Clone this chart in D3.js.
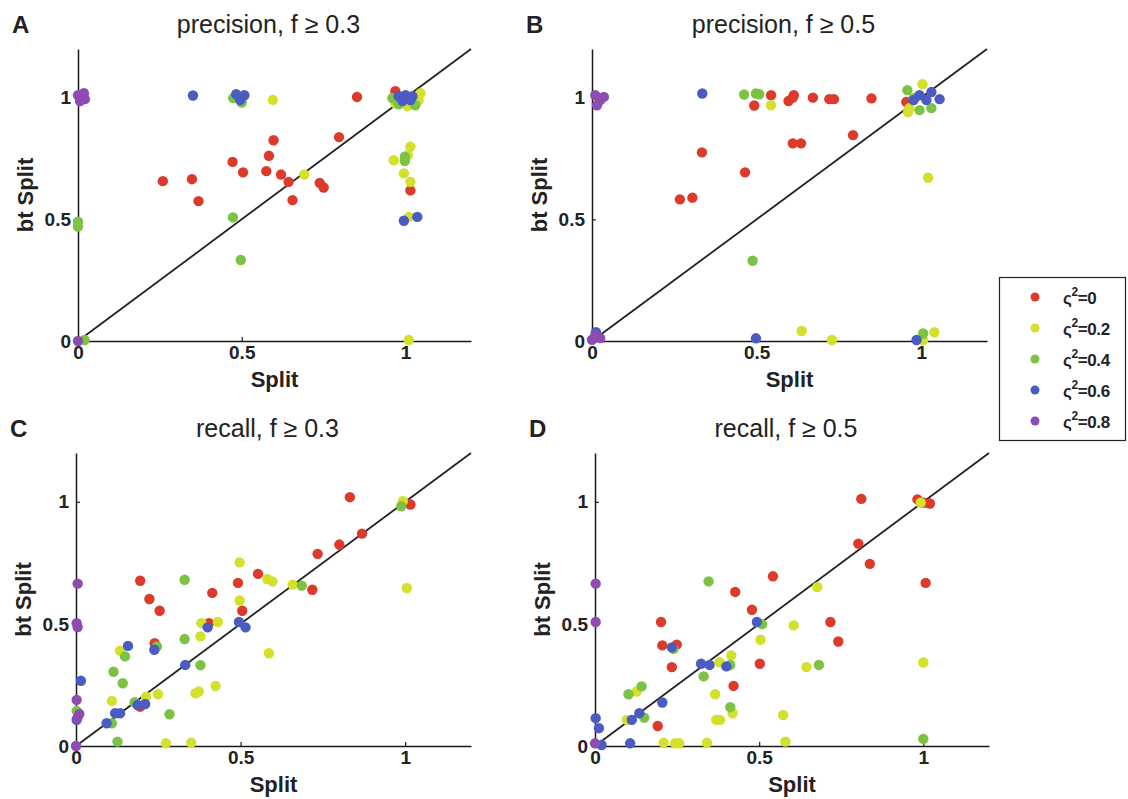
<!DOCTYPE html>
<html>
<head>
<meta charset="utf-8">
<script src="https://cdn.jsdelivr.net/npm/d3@7"></script>
<style>
  html, body { margin: 0; padding: 0; background: #fff; }
  svg { display: block; font-family: "Liberation Sans", Arial, Helvetica, sans-serif; }
</style>
</head>
<body>
<svg id="fig" width="1128" height="799"></svg>
<script>
// Noise levels (sigma^2) and their colours
const noiseLevels = ["0", "0.2", "0.4", "0.6", "0.8"];
const noiseColors = ["#dc3a2a", "#d3e02c", "#7cc244", "#4a5cc2", "#8e4cb2"];
const tickValues = [0, 0.5, 1];

// Panel A: precision, f >= 0.3   ([Split, bt Split] pairs per noise level)
const precF03_s0 = [[0.259,0.657],[0.348,0.665],[0.368,0.575],[0.472,0.736],[0.504,0.693],[0.597,0.825],[0.583,0.761],[0.575,0.698],[0.62,0.684],[0.643,0.654],[0.655,0.579],[0.738,0.65],[0.75,0.631],[0.797,0.838],[0.852,1.003],[1.015,0.619],[0.969,1.027]];
const precF03_s2 = [[0.595,0.991],[0.691,0.684],[0.964,0.743],[1.015,0.798],[1.007,0.764],[0.995,0.689],[1.015,0.654],[1.01,0.51],[1.01,0.004],[0.969,0.977],[1.04,0.99],[1.006,0.965],[1.046,1.018]];
const precF03_s4 = [[0,0.49],[0,0.47],[0.473,0.508],[0.497,0.333],[0.998,0.757],[0.998,0.74],[0.02,0.004],[0.474,0.998],[0.5,0.98],[0.979,0.973],[1.03,0.969],[0.96,0.998]];
const precF03_s6 = [[0.351,1.009],[0.483,1.014],[0.508,1.01],[0.495,0.99],[0.995,0.494],[1.036,0.51],[0.979,1.006],[1.0,1.01],[1.021,1.006],[0.991,0.986],[1.015,0.99]];
const precF03_s8 = [[0,1.01],[0.018,1.018],[0.006,0.986],[0.021,0.994],[0,0]];

// Panel B: precision, f >= 0.5
const precF05_s0 = [[0.267,0.582],[0.305,0.589],[0.334,0.775],[0.465,0.693],[0.493,0.968],[0.544,1.01],[0.597,0.986],[0.61,1.0],[0.613,1.01],[0.61,0.812],[0.635,0.812],[0.671,1.0],[0.721,0.994],[0.735,0.994],[0.793,0.846],[0.849,0.997],[0.955,0.982]];
const precF05_s2 = [[0.544,0.969],[1.021,0.671],[0.637,0.041],[0.729,0.004],[1.04,0.036],[1.006,0.004],[0.964,0.957],[1.004,1.055],[0.96,0.94]];
const precF05_s4 = [[0.462,1.013],[0.498,1.017],[0.508,1.014],[0.488,0.33],[1.006,0.031],[0.958,1.031],[1.031,0.957],[0.995,0.949],[0.977,0.998]];
const precF05_s6 = [[0.335,1.017],[0.498,0.011],[0.986,0.004],[0.012,0.036],[0.995,1.01],[1.031,1.023],[1.056,0.994],[1.016,0.99],[0.977,0.99]];
const precF05_s8 = [[0.01,1.01],[0.036,1.003],[0.015,0.969],[0.025,0.99],[0.01,0.025],[0.025,0.012],[0,0.005]];

// Panel C: recall, f >= 0.3
const recF03_s0 = [[0.832,1.019],[0.998,0.996],[1.016,0.989],[0.869,0.87],[0.8,0.825],[0.734,0.787],[0.718,0.64],[0.553,0.705],[0.492,0.668],[0.505,0.554],[0.195,0.677],[0.223,0.602],[0.254,0.554],[0.414,0.627],[0.239,0.421],[0.404,0.503],[0.195,0.161]];
const recF03_s2 = [[0.497,0.752],[0.581,0.684],[0.597,0.674],[0.658,0.661],[0.497,0.596],[1.005,0.647],[0.381,0.503],[0.431,0.508],[0.378,0.449],[0.586,0.38],[0.134,0.39],[0.109,0.185],[0.249,0.212],[0.363,0.216],[0.373,0.223],[0.424,0.246],[0.213,0.202],[0.273,0.011],[0.35,0.014],[0.993,1.003]];
const recF03_s4 = [[0.33,0.681],[0.686,0.657],[0.33,0.438],[0.378,0.331],[0.114,0.304],[0.142,0.257],[0.149,0.367],[0.246,0.408],[0.284,0.13],[0.126,0.018],[0.178,0.179],[0.002,0.144],[0.109,0.093],[0.988,0.982]];
const recF03_s6 = [[0.158,0.41],[0.238,0.394],[0.332,0.332],[0.4,0.486],[0.495,0.508],[0.515,0.486],[0.015,0.267],[0.002,0.107],[0.093,0.093],[0.119,0.134],[0.134,0.134],[0.187,0.168],[0.21,0.172]];
const recF03_s8 = [[0.005,0.665],[0.002,0.503],[0.005,0.487],[0.002,0.189],[0.01,0.131],[0.004,0.114],[0,0]];

// Panel D: recall, f >= 0.5
const recF05_s0 = [[0.811,1.012],[0.982,1.01],[1.002,0.996],[1.02,0.993],[0.802,0.829],[0.837,0.746],[1.007,0.668],[0.542,0.695],[0.427,0.631],[0.478,0.558],[0.717,0.508],[0.741,0.428],[0.201,0.508],[0.205,0.412],[0.249,0.415],[0.234,0.323],[0.422,0.246],[0.502,0.337],[0.191,0.082]];
const recF05_s2 = [[0.677,0.651],[0.605,0.494],[0.504,0.435],[0.644,0.323],[1.0,0.342],[0.415,0.371],[0.379,0.343],[0.366,0.212],[0.369,0.107],[0.381,0.107],[0.419,0.134],[0.573,0.127],[0.127,0.223],[0.097,0.107],[0.209,0.014],[0.244,0.011],[0.256,0.011],[0.341,0.014],[0.58,0.018],[0.992,0.996]];
const recF05_s4 = [[0.346,0.674],[0.239,0.398],[0.412,0.332],[0.331,0.285],[0.509,0.499],[0.682,0.332],[0.412,0.159],[0.102,0.212],[0.142,0.244],[0.15,0.116],[1.0,0.029]];
const recF05_s6 = [[0.234,0.404],[0.323,0.337],[0.349,0.332],[0.4,0.326],[0.493,0.508],[0.205,0.178],[0.112,0.107],[0.135,0.134],[0.002,0.114],[0.012,0.073],[0.107,0.011],[0.02,0.004]];
const recF05_s8 = [[0.002,0.665],[0.002,0.508],[0,0.011]];

const panelLetters = ["A", "B", "C", "D"];
const panelTitles = ["precision, f \u2265 0.3", "precision, f \u2265 0.5", "recall, f \u2265 0.3", "recall, f \u2265 0.5"];
const panelSeries = [
  [precF03_s0, precF03_s2, precF03_s4, precF03_s6, precF03_s8],
  [precF05_s0, precF05_s2, precF05_s4, precF05_s6, precF05_s8],
  [recF03_s0, recF03_s2, recF03_s4, recF03_s6, recF03_s8],
  [recF05_s0, recF05_s2, recF05_s4, recF05_s6, recF05_s8]
];

// Pixel frame of each panel's axes: left, right, bottom, top
const frames = [
  { x0: 78,  x1: 471, y0: 341, y1: 49 },
  { x0: 592, x1: 987, y0: 341, y1: 49 },
  { x0: 76,  x1: 471, y0: 746, y1: 453 },
  { x0: 595, x1: 989, y0: 746, y1: 453 }
];

const svg = d3.select("#fig");
const ink = "#1a1a1a";

panelSeries.forEach((series, i) => {
  const f = frames[i];
  const x = d3.scaleLinear().domain([0, 1.2]).range([f.x0, f.x1]);
  const y = d3.scaleLinear().domain([0, 1.2]).range([f.y0, f.y1]);
  const g = svg.append("g");

  // diagonal reference line y = x
  g.append("line")
    .attr("x1", x(0)).attr("y1", y(0))
    .attr("x2", x(1.2)).attr("y2", y(1.2))
    .attr("stroke", "#222").attr("stroke-width", 1.8);

  // axes
  const fmt = d3.format("~g");
  const xAxis = g.append("g").attr("transform", `translate(0,${f.y0})`)
    .call(d3.axisBottom(x).tickValues(tickValues).tickFormat(fmt)
      .tickSizeInner(-4).tickSizeOuter(0).tickPadding(5));
  const yAxis = g.append("g").attr("transform", `translate(${f.x0},0)`)
    .call(d3.axisLeft(y).tickValues(tickValues).tickFormat(fmt)
      .tickSizeInner(-4).tickSizeOuter(0).tickPadding(7));
  [xAxis, yAxis].forEach(a => {
    a.select(".domain").attr("stroke", ink).attr("stroke-width", 1.5);
    a.selectAll(".tick line").attr("stroke", ink).attr("stroke-width", 1.2);
    a.selectAll(".tick text")
      .attr("fill", "#222").style("font-size", "19px").style("font-weight", "bold")
      .style("font-family", "'Liberation Sans', Arial, sans-serif");
  });

  // points, one layer per noise level
  series.forEach((pts, k) => {
    g.append("g").selectAll("circle").data(pts).join("circle")
      .attr("cx", d => x(d[0])).attr("cy", d => y(d[1]))
      .attr("r", 5.2).attr("fill", noiseColors[k]);
  });

  // titles and labels
  g.append("text").attr("x", f.x0 - 66).attr("y", f.y1 - 16)
    .style("font-size", "24px").style("font-weight", "bold").attr("fill", "#222")
    .text(panelLetters[i]);
  g.append("text").attr("x", (f.x0 + f.x1) / 2 - 6).attr("y", f.y1 - 16)
    .attr("text-anchor", "middle").style("font-size", "25px").attr("fill", "#222")
    .text(panelTitles[i]);
  g.append("text").attr("x", (f.x0 + f.x1) / 2).attr("y", f.y0 + 46)
    .attr("text-anchor", "middle").style("font-size", "22px").style("font-weight", "bold")
    .attr("fill", "#222").text("Split");
  g.append("text")
    .attr("transform", `translate(${f.x0 - 45},${(f.y0 + f.y1) / 2}) rotate(-90)`)
    .attr("text-anchor", "middle").style("font-size", "22px").style("font-weight", "bold")
    .attr("fill", "#222").text("bt Split");
});

// legend
const legend = svg.append("g");
legend.append("rect").attr("x", 999.5).attr("y", 277.5).attr("width", 126).attr("height", 163)
  .attr("fill", "#fff").attr("stroke", "#222").attr("stroke-width", 1.2);
noiseLevels.forEach((lvl, k) => {
  const cy = 297 + k * 31;
  legend.append("circle").attr("cx", 1035).attr("cy", cy).attr("r", 4.5).attr("fill", noiseColors[k]);
  const t = legend.append("text").attr("x", 1063).attr("y", cy + 7)
    .style("font-size", "17px").style("font-weight", "bold").attr("fill", "#222")
    .style("letter-spacing", "-0.4px");
  t.append("tspan").text("\u03c2");
  t.append("tspan").attr("dy", -8).style("font-size", "12px").text("2");
  t.append("tspan").attr("dy", 8).text("=" + lvl);
});
</script>
</body>
</html>
